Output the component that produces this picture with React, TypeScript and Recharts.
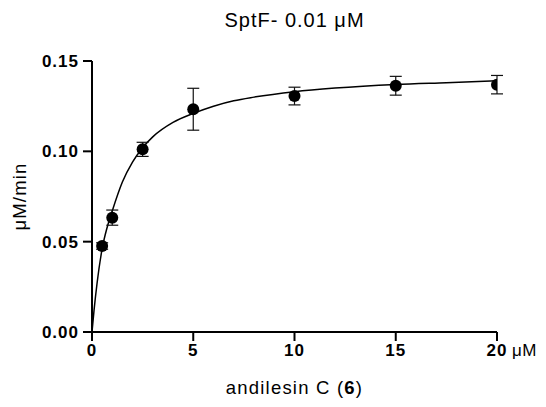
import React from 'react';
import {
  ComposedChart,
  ErrorBar,
  Line,
  Scatter,
  XAxis,
  YAxis,
} from 'recharts';

// measured substrate concentrations (μM), mean rates (μM/min) and SD
const conc = [0.5, 1, 2.5, 5, 10, 15, 20];
const rate = [0.0476, 0.0633, 0.1011, 0.1233, 0.1306, 0.1363, 0.1369];
const sd = [0.0018, 0.0042, 0.0039, 0.0116, 0.0049, 0.0052, 0.0051];

// fitted curve
const curveX = [0, 0.1, 0.25, 0.5, 0.75, 1, 1.5, 2, 2.5, 3, 4, 5, 6, 7, 8, 10, 12, 15, 17.5, 20];
const curveY = [0, 0.012, 0.027, 0.046, 0.058, 0.067, 0.083, 0.094, 0.102, 0.108, 0.116, 0.121, 0.125, 0.128, 0.13, 0.133, 0.135, 0.137, 0.138, 0.139];

const xTicks = [0, 5, 10, 15, 20];
const yTicks = [0, 0.05, 0.1, 0.15];

const FONT = '"Liberation Sans", Arial, sans-serif';

const points = conc.map((x, i) => ({ x, y: rate[i], err: sd[i] }));
const curve = curveX.map((x, i) => ({ x, y: curveY[i] }));

const XTick = ({ x, y, payload }: any) => (
  <g>
    <text x={x} y={y} dy={13} textAnchor="middle" fontSize={17} fontWeight="bold" letterSpacing={1} fontFamily={FONT} fill="#000">
      {payload.value}
    </text>
    {payload.value === 20 && (
      <text x={x + 15} y={y} dy={13} textAnchor="start" fontSize={17} letterSpacing={0.5} fontFamily={FONT} fill="#000">
        μM
      </text>
    )}
  </g>
);

const YLabel = ({ viewBox }: any) => {
  const cy = viewBox.y + viewBox.height / 2;
  return (
    <text x={26} y={cy} transform={`rotate(-90 26 ${cy})`} textAnchor="middle" fontSize={18.5} letterSpacing={1.2} fontFamily={FONT} fill="#000">
      μM/min
    </text>
  );
};

const XLabel = ({ viewBox }: any) => (
  <text x={viewBox.x + viewBox.width / 2} y={394} textAnchor="middle" fontSize={18.5} letterSpacing={1.2} fontFamily={FONT} fill="#000">
    andilesin C (<tspan fontWeight="bold">6</tspan>)
  </text>
);

const axisStyle = { stroke: '#000', strokeWidth: 2 };

export default function App() {
  return (
    <div style={{ position: 'absolute', left: 0, top: 0, width: 546, height: 407, background: '#fff' }}>
      <div
        style={{
          position: 'absolute',
          left: 92,
          width: 405,
          top: 9,
          textAlign: 'center',
          fontFamily: FONT,
          fontSize: 20,
          letterSpacing: 1,
          lineHeight: 'normal',
          color: '#000',
        }}
      >
        SptF- 0.01 μM
      </div>
      <ComposedChart width={546} height={407} margin={{ top: 61, right: 49, bottom: 0, left: 0 }}>
        <XAxis
          dataKey="x"
          type="number"
          domain={[0, 20]}
          ticks={xTicks}
          interval={0}
          height={75}
          tickSize={9}
          tickMargin={2}
          axisLine={axisStyle}
          tickLine={axisStyle}
          tick={<XTick />}
          label={<XLabel />}
          allowDataOverflow
        />
        <YAxis
          dataKey="y"
          type="number"
          domain={[0, 0.15]}
          ticks={yTicks}
          interval={0}
          width={92}
          tickSize={9}
          tickMargin={4}
          axisLine={axisStyle}
          tickLine={axisStyle}
          tickFormatter={(v: number) => v.toFixed(2)}
          tick={{ fontSize: 17, fontWeight: 'bold', fill: '#000', fontFamily: FONT, letterSpacing: 1 }}
          label={<YLabel />}
          allowDataOverflow
        />
        <Line
          data={curve}
          dataKey="y"
          type="monotone"
          stroke="#000"
          strokeWidth={1.5}
          dot={false}
          activeDot={false}
          isAnimationActive={false}
        />
        <Scatter data={points} dataKey="y" fill="#000" isAnimationActive={false} shape={(p: any) => <circle cx={p.cx} cy={p.cy} r={6} fill="#000" />}>
          <ErrorBar dataKey="err" direction="y" width={6} stroke="#111" strokeWidth={1.2} />
        </Scatter>
      </ComposedChart>
    </div>
  );
}
